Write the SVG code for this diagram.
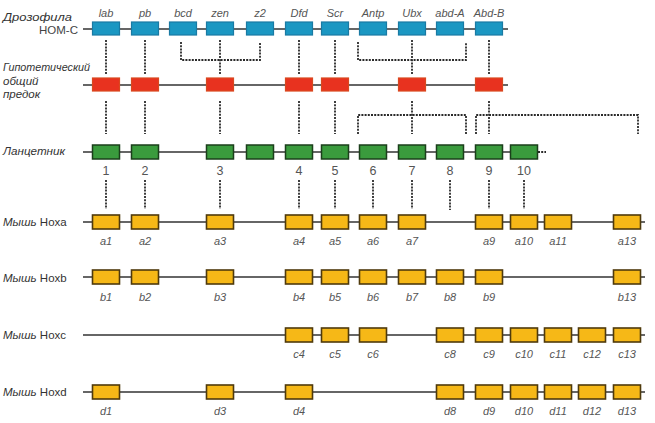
<svg xmlns="http://www.w3.org/2000/svg" width="655" height="423" viewBox="0 0 655 423">
<defs>
<style>
.ln{stroke:#333;stroke-width:1.5;fill:none}
.ds{stroke:#2a2a2a;stroke-width:1.8;stroke-dasharray:2,1.2;fill:none}
.b{fill:#1b97c2;stroke:#1a7aa3;stroke-width:1.2}
.r{fill:#e8321f;stroke:#d9481f;stroke-width:1.2}
.g{fill:#3a9b3d;stroke:#1b3f1b;stroke-width:1.5}
.y{fill:#f6b817;stroke:#4f3a0c;stroke-width:1.6}
.t{font-family:"Liberation Sans",Arial,sans-serif;fill:#444}
.gl{font-family:"Liberation Sans",Arial,sans-serif;font-style:italic;font-size:11px;fill:#555;text-anchor:middle}
.num{font-family:"Liberation Sans",Arial,sans-serif;font-size:12.5px;fill:#555;text-anchor:middle}
.row{font-family:"Liberation Sans",Arial,sans-serif;font-style:italic;font-size:11.5px;fill:#333}
</style>
</defs>
<rect width="655" height="423" fill="#fff"/>

<!-- row labels -->
<g id="labels">
<text class="row" x="3" y="21" textLength="69" lengthAdjust="spacingAndGlyphs">Дрозофила</text>
<text class="t" x="78" y="34" font-size="11.5" text-anchor="end">HOM-C</text>
<text class="row" x="3" y="71" textLength="87" lengthAdjust="spacingAndGlyphs">Гипотетический</text>
<text class="row" x="3" y="85">общий</text>
<text class="row" x="3" y="98">предок</text>
<text class="row" x="3" y="155" textLength="62" lengthAdjust="spacingAndGlyphs">Ланцетник</text>
<text class="row" x="3" y="226">Мышь <tspan font-style="normal" font-size="11.5">Hoxa</tspan></text>
<text class="row" x="3" y="282">Мышь <tspan font-style="normal" font-size="11.5">Hoxb</tspan></text>
<text class="row" x="3" y="339">Мышь <tspan font-style="normal" font-size="11.5">Hoxc</tspan></text>
<text class="row" x="3" y="396">Мышь <tspan font-style="normal" font-size="11.5">Hoxd</tspan></text>
</g>

<!-- connectors -->
<g id="connectors">
<line class="ln" x1="83" y1="29" x2="508" y2="29"/>
<line class="ln" x1="83" y1="85" x2="508" y2="85"/>
<line class="ln" x1="83" y1="152" x2="538" y2="152"/>
<line class="ds" x1="538" y1="152" x2="546" y2="152"/>
<line class="ln" x1="83" y1="222" x2="645" y2="222"/>
<line class="ln" x1="83" y1="277" x2="645" y2="277"/>
<line class="ln" x1="83" y1="335" x2="645" y2="335"/>
<line class="ln" x1="83" y1="392" x2="645" y2="392"/>

<path class="ds" d="M106 40V74M145 40V74M220 40V74M299 40V74M335 40V74M412 40V74M489 40V74"/>
<path class="ds" d="M181 42V60H260V42M358 42V60H466V42"/>
<path class="ds" d="M106 101V134M145 101V134M220 101V134M299 101V134M335 101V134M412 101V134M489 101V134"/>
<path class="ds" d="M358 134V115H466V134M476 134V115H638V134"/>
<path class="ds" d="M106 180V209M145 180V209M220 180V209M299 180V209M335 180V209M373 180V209M412 180V209M450 180V210M489 180V209M524 180V209"/>
</g>

<!-- Drosophila HOM-C -->
<g id="dros">
<g id="d-lab"><rect class="b" x="92.5" y="22" width="27" height="13"/><text class="gl" x="106" y="17">lab</text></g>
<g id="d-pb"><rect class="b" x="131.5" y="22" width="27" height="13"/><text class="gl" x="145" y="17">pb</text></g>
<g id="d-bcd"><rect class="b" x="169.5" y="22" width="27" height="13"/><text class="gl" x="183" y="17">bcd</text></g>
<g id="d-zen"><rect class="b" x="206.5" y="22" width="27" height="13"/><text class="gl" x="220" y="17">zen</text></g>
<g id="d-z2"><rect class="b" x="246.5" y="22" width="27" height="13"/><text class="gl" x="260" y="17">z2</text></g>
<g id="d-Dfd"><rect class="b" x="285.5" y="22" width="27" height="13"/><text class="gl" x="299" y="17">Dfd</text></g>
<g id="d-Scr"><rect class="b" x="321.5" y="22" width="27" height="13"/><text class="gl" x="335" y="17">Scr</text></g>
<g id="d-Antp"><rect class="b" x="359.5" y="22" width="27" height="13"/><text class="gl" x="373" y="17">Antp</text></g>
<g id="d-Ubx"><rect class="b" x="398.5" y="22" width="27" height="13"/><text class="gl" x="412" y="17">Ubx</text></g>
<g id="d-abdA"><rect class="b" x="436.5" y="22" width="27" height="13"/><text class="gl" x="450" y="17">abd-A</text></g>
<g id="d-AbdB"><rect class="b" x="475.5" y="22" width="27" height="13"/><text class="gl" x="489" y="17">Abd-B</text></g>
</g>

<!-- ancestor -->
<g id="anc">
<g id="r1"><rect class="r" x="92.5" y="78" width="27" height="13"/></g>
<g id="r2"><rect class="r" x="131.5" y="78" width="27" height="13"/></g>
<g id="r3"><rect class="r" x="206.5" y="78" width="27" height="13"/></g>
<g id="r4"><rect class="r" x="285.5" y="78" width="27" height="13"/></g>
<g id="r5"><rect class="r" x="321.5" y="78" width="27" height="13"/></g>
<g id="r6"><rect class="r" x="398.5" y="78" width="27" height="13"/></g>
<g id="r7"><rect class="r" x="475.5" y="78" width="27" height="13"/></g>
</g>

<!-- amphioxus -->
<g id="amph">
<g id="g1"><rect class="g" x="92.5" y="145" width="27" height="14"/><text class="num" x="106" y="175">1</text></g>
<g id="g2"><rect class="g" x="131.5" y="145" width="27" height="14"/><text class="num" x="145" y="175">2</text></g>
<g id="g3"><rect class="g" x="206.5" y="145" width="27" height="14"/><text class="num" x="220" y="175">3</text></g>
<g id="g3b"><rect class="g" x="246.5" y="145" width="27" height="14"/></g>
<g id="g4"><rect class="g" x="285.5" y="145" width="27" height="14"/><text class="num" x="299" y="175">4</text></g>
<g id="g5"><rect class="g" x="321.5" y="145" width="27" height="14"/><text class="num" x="335" y="175">5</text></g>
<g id="g6"><rect class="g" x="359.5" y="145" width="27" height="14"/><text class="num" x="373" y="175">6</text></g>
<g id="g7"><rect class="g" x="398.5" y="145" width="27" height="14"/><text class="num" x="412" y="175">7</text></g>
<g id="g8"><rect class="g" x="436.5" y="145" width="27" height="14"/><text class="num" x="450" y="175">8</text></g>
<g id="g9"><rect class="g" x="475.5" y="145" width="27" height="14"/><text class="num" x="489" y="175">9</text></g>
<g id="g10"><rect class="g" x="510.5" y="145" width="27" height="14"/><text class="num" x="524" y="175">10</text></g>
</g>

<!-- Hoxa -->
<g id="hoxa">
<g id="a1"><rect class="y" x="92.5" y="215" width="27" height="14"/><text class="gl" x="106" y="245">a1</text></g>
<g id="a2"><rect class="y" x="131.5" y="215" width="27" height="14"/><text class="gl" x="145" y="245">a2</text></g>
<g id="a3"><rect class="y" x="206.5" y="215" width="27" height="14"/><text class="gl" x="220" y="245">a3</text></g>
<g id="a4"><rect class="y" x="285.5" y="215" width="27" height="14"/><text class="gl" x="299" y="245">a4</text></g>
<g id="a5"><rect class="y" x="321.5" y="215" width="27" height="14"/><text class="gl" x="335" y="245">a5</text></g>
<g id="a6"><rect class="y" x="359.5" y="215" width="27" height="14"/><text class="gl" x="373" y="245">a6</text></g>
<g id="a7"><rect class="y" x="398.5" y="215" width="27" height="14"/><text class="gl" x="412" y="245">a7</text></g>
<g id="a9"><rect class="y" x="475.5" y="215" width="27" height="14"/><text class="gl" x="489" y="245">a9</text></g>
<g id="a10"><rect class="y" x="510.5" y="215" width="27" height="14"/><text class="gl" x="524" y="245">a10</text></g>
<g id="a11"><rect class="y" x="544.5" y="215" width="27" height="14"/><text class="gl" x="558" y="245">a11</text></g>
<g id="a13"><rect class="y" x="613.5" y="215" width="27" height="14"/><text class="gl" x="627" y="245">a13</text></g>
</g>

<!-- Hoxb -->
<g id="hoxb">
<g id="b1"><rect class="y" x="92.5" y="270" width="27" height="14"/><text class="gl" x="106" y="301">b1</text></g>
<g id="b2"><rect class="y" x="131.5" y="270" width="27" height="14"/><text class="gl" x="145" y="301">b2</text></g>
<g id="b3"><rect class="y" x="206.5" y="270" width="27" height="14"/><text class="gl" x="220" y="301">b3</text></g>
<g id="b4"><rect class="y" x="285.5" y="270" width="27" height="14"/><text class="gl" x="299" y="301">b4</text></g>
<g id="b5"><rect class="y" x="321.5" y="270" width="27" height="14"/><text class="gl" x="335" y="301">b5</text></g>
<g id="b6"><rect class="y" x="359.5" y="270" width="27" height="14"/><text class="gl" x="373" y="301">b6</text></g>
<g id="b7"><rect class="y" x="398.5" y="270" width="27" height="14"/><text class="gl" x="412" y="301">b7</text></g>
<g id="b8"><rect class="y" x="436.5" y="270" width="27" height="14"/><text class="gl" x="450" y="301">b8</text></g>
<g id="b9"><rect class="y" x="475.5" y="270" width="27" height="14"/><text class="gl" x="489" y="301">b9</text></g>
<g id="b13"><rect class="y" x="613.5" y="270" width="27" height="14"/><text class="gl" x="627" y="301">b13</text></g>
</g>

<!-- Hoxc -->
<g id="hoxc">
<g id="c4"><rect class="y" x="285.5" y="328" width="27" height="14"/><text class="gl" x="299" y="358">c4</text></g>
<g id="c5"><rect class="y" x="321.5" y="328" width="27" height="14"/><text class="gl" x="335" y="358">c5</text></g>
<g id="c6"><rect class="y" x="359.5" y="328" width="27" height="14"/><text class="gl" x="373" y="358">c6</text></g>
<g id="c8"><rect class="y" x="436.5" y="328" width="27" height="14"/><text class="gl" x="450" y="358">c8</text></g>
<g id="c9"><rect class="y" x="475.5" y="328" width="27" height="14"/><text class="gl" x="489" y="358">c9</text></g>
<g id="c10"><rect class="y" x="510.5" y="328" width="27" height="14"/><text class="gl" x="524" y="358">c10</text></g>
<g id="c11"><rect class="y" x="544.5" y="328" width="27" height="14"/><text class="gl" x="558" y="358">c11</text></g>
<g id="c12"><rect class="y" x="578.5" y="328" width="27" height="14"/><text class="gl" x="592" y="358">c12</text></g>
<g id="c13"><rect class="y" x="613.5" y="328" width="27" height="14"/><text class="gl" x="627" y="358">c13</text></g>
</g>

<!-- Hoxd -->
<g id="hoxd">
<g id="d1"><rect class="y" x="92.5" y="385" width="27" height="14"/><text class="gl" x="106" y="415">d1</text></g>
<g id="d3"><rect class="y" x="206.5" y="385" width="27" height="14"/><text class="gl" x="220" y="415">d3</text></g>
<g id="d4"><rect class="y" x="285.5" y="385" width="27" height="14"/><text class="gl" x="299" y="415">d4</text></g>
<g id="d8"><rect class="y" x="436.5" y="385" width="27" height="14"/><text class="gl" x="450" y="415">d8</text></g>
<g id="d9"><rect class="y" x="475.5" y="385" width="27" height="14"/><text class="gl" x="489" y="415">d9</text></g>
<g id="d10"><rect class="y" x="510.5" y="385" width="27" height="14"/><text class="gl" x="524" y="415">d10</text></g>
<g id="d11"><rect class="y" x="544.5" y="385" width="27" height="14"/><text class="gl" x="558" y="415">d11</text></g>
<g id="d12"><rect class="y" x="578.5" y="385" width="27" height="14"/><text class="gl" x="592" y="415">d12</text></g>
<g id="d13"><rect class="y" x="613.5" y="385" width="27" height="14"/><text class="gl" x="627" y="415">d13</text></g>
</g>
</svg>
